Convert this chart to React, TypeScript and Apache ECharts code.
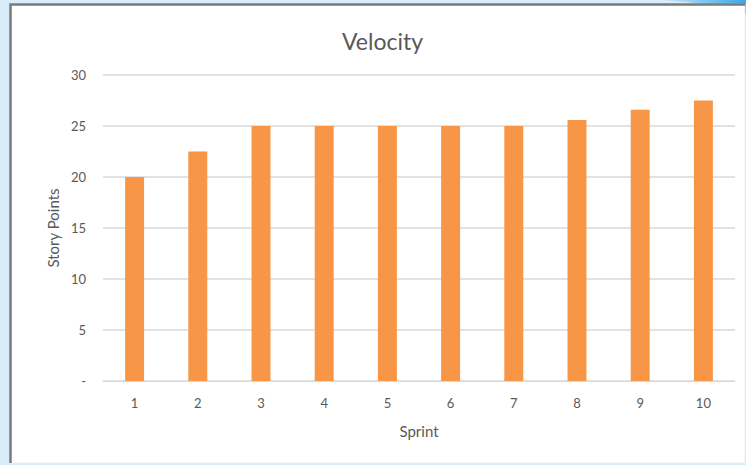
import React, { useEffect, useRef } from "react";
import * as echarts from "echarts";

const sprints = ["1", "2", "3", "4", "5", "6", "7", "8", "9", "10"];
const storyPoints = [20, 22.5, 25, 25, 25, 25, 25, 25.6, 26.6, 27.5];
const yTicks = [0, 5, 10, 15, 20, 25, 30];

const FONT = "Lato, 'Open Sans', sans-serif";
const TEXT = "#595959";

export default function App() {
  const ref = useRef<HTMLDivElement>(null);
  useEffect(() => {
    if (!ref.current) return;
    const chart = echarts.init(ref.current, undefined, { renderer: "svg" });
    chart.setOption({
      animation: false,
      backgroundColor: "#d8edf9",
      textStyle: { fontFamily: FONT },
      graphic: [
        {
          type: "polygon",
          z: -5,
          silent: true,
          shape: { points: [[660, 0], [746, 0], [746, 14], [720, 5]] },
          style: {
            fill: new echarts.graphic.LinearGradient(0, 0, 1, 0, [
              { offset: 0, color: "#cfe9f8" },
              { offset: 1, color: "#3aa7e6" },
            ]),
          },
        },
        {
          type: "rect",
          z: -4,
          silent: true,
          shape: { x: 10, y: 4, width: 735, height: 459 },
          style: { fill: "#ffffff", stroke: "#eeeeee", lineWidth: 1 },
        },
        {
          type: "polyline",
          z: -3,
          silent: true,
          shape: { points: [[10.5, 463], [10.5, 4.5], [745, 4.5]] },
          style: { stroke: "#7a7a7a", lineWidth: 2.5, fill: null },
        },
      ],
      title: {
        text: "Velocity",
        left: 337,
        top: 24,
        textStyle: { fontSize: 23, fontWeight: "normal", color: TEXT, fontFamily: FONT },
      },
      grid: { left: 103, right: 11, top: 75, bottom: 84 },
      xAxis: {
        type: "category",
        data: sprints,
        name: "Sprint",
        nameLocation: "middle",
        nameGap: 42,
        nameTextStyle: { fontSize: 15, color: TEXT, fontFamily: FONT },
        axisLine: { show: true, lineStyle: { color: "#d9d9d9", width: 1 } },
        axisTick: { show: false },
        axisLabel: { color: TEXT, fontSize: 13, margin: 15, fontFamily: FONT },
      },
      yAxis: {
        type: "value",
        min: yTicks[0],
        max: yTicks[yTicks.length - 1],
        interval: 5,
        name: "Story Points",
        nameLocation: "middle",
        nameGap: 41,
        nameRotate: 90,
        nameTextStyle: { fontSize: 15, color: TEXT, fontFamily: FONT },
        axisLine: { show: false },
        axisTick: { show: false },
        axisLabel: {
          color: TEXT,
          fontSize: 13,
          margin: 17,
          fontFamily: FONT,
          formatter: (v: number) => (v === 0 ? "-" : String(v)),
        },
        splitLine: { lineStyle: { color: "#d9d9d9", width: 1.5 } },
      },
      series: [
        {
          type: "bar",
          data: storyPoints,
          barWidth: "30%",
          itemStyle: { color: "#f79646" },
        },
      ],
    });
    return () => chart.dispose();
  }, []);
  return (
    <div
      ref={ref}
      style={{ position: "fixed", left: 0, top: 0, width: 746, height: 465 }}
    />
  );
}
